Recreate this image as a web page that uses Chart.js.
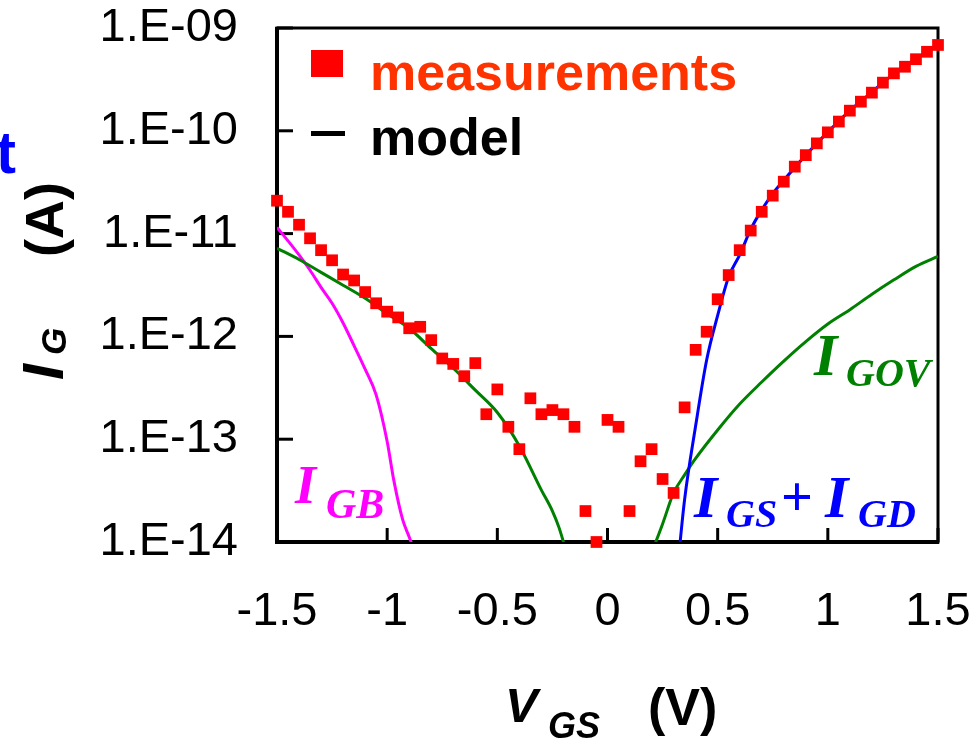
<!DOCTYPE html>
<html>
<head>
<meta charset="utf-8">
<script src="https://cdn.jsdelivr.net/npm/chart.js@4.4.0/dist/chart.umd.min.js"></script>
<style>
body { margin: 0; background: #fff; }
#wrap { width: 980px; height: 746px; }
</style>
</head>
<body>
<div id="wrap"><canvas id="chart"></canvas></div>
<script>
// gate voltage of the measured points (V)
const vgs = [-1.5,-1.45,-1.4,-1.35,-1.3,-1.25,-1.2,-1.15,-1.1,-1.05,-1,-0.95,-0.9,-0.85,-0.8,-0.75,-0.7,-0.65,-0.6,-0.55,
  -0.5,-0.45,-0.4,-0.35,-0.3,-0.25,-0.2,-0.15,-0.1,-0.05,0,0.05,0.1,0.15,0.2,0.25,0.3,0.35,0.4,0.45,
  0.5,0.55,0.6,0.65,0.7,0.75,0.8,0.85,0.9,0.95,1,1.05,1.1,1.15,1.2,1.25,1.3,1.35,1.4,1.45,1.5];
// measured gate current (A)
const igMeas = [2.09e-11,1.63e-11,1.22e-11,9.0e-12,6.9e-12,5.5e-12,4.0e-12,3.5e-12,2.7e-12,2.1e-12,
  1.74e-12,1.53e-12,1.2e-12,1.24e-12,9.2e-13,6.1e-13,5.4e-13,4.1e-13,5.5e-13,1.75e-13,
  3.05e-13,1.32e-13,8.0e-14,2.5e-13,1.75e-13,1.92e-13,1.75e-13,1.32e-13,2.0e-14,1.0e-14,
  1.54e-13,1.32e-13,2.0e-14,6.1e-14,8.0e-14,4.1e-14,3.0e-14,2.04e-13,7.4e-13,1.11e-12,
  2.3e-12,3.95e-12,6.9e-12,1.07e-11,1.63e-11,2.34e-11,3.2e-11,4.48e-11,5.8e-11,7.55e-11,
  9.66e-11,1.23e-10,1.57e-10,1.92e-10,2.35e-10,2.94e-10,3.62e-10,4.2e-10,4.97e-10,5.87e-10,6.84e-10];

// model components
const igbV = [-1.5,-1.45,-1.4,-1.35,-1.3,-1.25,-1.2,-1.15,-1.1,-1.05,-1.0,-0.97,-0.93,-0.9,-0.875];
const igbI = [1.15e-11,8.5e-12,6.2e-12,4.4e-12,3.0e-12,2.1e-12,1.35e-12,8.1e-13,4.8e-13,2.7e-13,9.5e-14,4.0e-14,1.66e-14,1.12e-14,8e-15];

const igovLeftV = [-1.5,-1.4,-1.3,-1.2,-1.1,-1.0,-0.9,-0.8,-0.7,-0.6,-0.5,-0.4,-0.3,-0.25,-0.22,-0.19];
const igovLeftI = [7.2e-12,5.6e-12,4.2e-12,3.15e-12,2.35e-12,1.66e-12,1.2e-12,7.6e-13,4.9e-13,3.0e-13,1.82e-13,8.6e-14,3.2e-14,2.0e-14,1.38e-14,8.5e-15];

const igovRightV = [0.21,0.25,0.3,0.35,0.4,0.5,0.6,0.7,0.8,0.9,1.0,1.1,1.2,1.3,1.4,1.5];
const igovRightI = [8.9e-15,1.5e-14,3.0e-14,4.5e-14,6.5e-14,1.23e-13,2.2e-13,3.6e-13,5.75e-13,8.9e-13,1.32e-12,1.82e-12,2.57e-12,3.55e-12,4.8e-12,6.0e-12];

const igsdV = [0.325,0.35,0.4,0.45,0.5,0.55,0.6,0.65,0.7,0.75,0.8,0.9,1.0,1.1,1.2,1.3,1.4,1.5];
const igsdI = [8e-15,2.6e-14,1.35e-13,5.9e-13,1.6e-12,3.8e-12,6.2e-12,1.1e-11,1.7e-11,2.45e-11,3.3e-11,5.8e-11,9.7e-11,1.57e-10,2.38e-10,3.6e-10,5.0e-10,6.9e-10];

// axes
const xTickValues = [-1.5,-1,-0.5,0,0.5,1,1.5];
const xTickLabels = ['-1.5','-1','-0.5','0','0.5','1','1.5'];
const yTickValues = [1e-14,1e-13,1e-12,1e-11,1e-10,1e-9];
const yTickLabels = ['1.E-14','1.E-13','1.E-12','1.E-11','1.E-10','1.E-09'];

const SANS = '"Liberation Sans", Arial, sans-serif';
const SERIF = '"Liberation Serif", "Times New Roman", serif';

function pts(xs, ys) { return xs.map((v, i) => ({x: v, y: ys[i]})); }

function curve(xs, ys, color) {
  return {
    data: pts(xs, ys),
    showLine: true,
    borderColor: color,
    borderWidth: 3,
    pointRadius: 0,
    cubicInterpolationMode: 'monotone'
  };
}

function txt(ctx, x, y, font, color, s) {
  ctx.font = font; ctx.fillStyle = color; ctx.fillText(s, x, y);
}

// keep the plot box where the original has it
function noPad(s) {
  s.paddingTop = 0; s.paddingBottom = 0; s.paddingLeft = 0; s.paddingRight = 0;
}

const decor = {
  id: 'decor',
  beforeDatasetsDraw(chart) {
    const {ctx, chartArea: a, scales: {x, y}} = chart;
    ctx.save();
    ctx.strokeStyle = '#000';
    ctx.lineWidth = 3;
    ctx.strokeRect(a.left, a.top, a.right - a.left, a.bottom - a.top);
    ctx.lineWidth = 4;
    ctx.beginPath();
    ctx.moveTo(a.left, a.top - 1);
    ctx.lineTo(a.left, a.bottom);
    ctx.lineTo(a.right + 1, a.bottom);
    ctx.stroke();
    ctx.lineWidth = 3;
    yTickValues.forEach(v => {
      const py = y.getPixelForValue(v);
      ctx.beginPath(); ctx.moveTo(a.left, py); ctx.lineTo(a.left + 16, py); ctx.stroke();
    });
    xTickValues.forEach(v => {
      const px = x.getPixelForValue(v);
      ctx.beginPath(); ctx.moveTo(px, a.bottom); ctx.lineTo(px, a.bottom - 14); ctx.stroke();
    });
    ctx.restore();
  },
  afterDraw(chart) {
    const ctx = chart.ctx;
    ctx.save();
    ctx.textAlign = 'left';
    ctx.textBaseline = 'alphabetic';

    // legend
    ctx.fillStyle = '#ff0000';
    ctx.fillRect(311, 50, 32, 27);
    ctx.fillStyle = '#000';
    ctx.fillRect(311, 131, 34, 5);
    txt(ctx, 370, 90, 'bold 52px ' + SANS, '#ff3300', 'measurements');
    txt(ctx, 370, 155, 'bold 52px ' + SANS, '#000', 'model');

    // cut-off blue letter at the left edge
    txt(ctx, -4, 173, 'bold 60px ' + SANS, '#0000ff', 't');

    // component labels
    txt(ctx, 295, 503, 'bold italic 54px ' + SERIF, '#ff00ff', 'I');
    txt(ctx, 326, 518, 'bold italic 42px ' + SERIF, '#ff00ff', 'GB');

    txt(ctx, 814, 375, 'bold italic 60px ' + SERIF, '#008000', 'I');
    txt(ctx, 846, 386, 'bold italic 40px ' + SERIF, '#008000', 'GOV');

    txt(ctx, 694, 517, 'bold italic 60px ' + SERIF, '#0000ff', 'I');
    txt(ctx, 726, 527, 'bold italic 40px ' + SERIF, '#0000ff', 'GS');
    txt(ctx, 781, 516, 'bold 56px ' + SERIF, '#0000ff', '+');
    txt(ctx, 825, 517, 'bold italic 60px ' + SERIF, '#0000ff', 'I');
    txt(ctx, 858, 527, 'bold italic 40px ' + SERIF, '#0000ff', 'GD');

    // x axis title
    txt(ctx, 505, 722, 'bold italic 49px ' + SANS, '#000', 'V');
    txt(ctx, 548, 738, 'bold italic 36px ' + SANS, '#000', 'GS');
    txt(ctx, 648, 725, 'bold 52px ' + SANS, '#000', '(V)');

    // y axis title, rotated
    ctx.translate(63, 380);
    ctx.rotate(-Math.PI / 2);
    txt(ctx, 0, 0, 'bold italic 58px ' + SANS, '#000', 'I');
    txt(ctx, 25, 3, 'bold italic 35px ' + SANS, '#000', 'G');
    txt(ctx, 123, 0, 'bold 54px ' + SANS, '#000', '(A)');
    ctx.restore();
  }
};

const ctx = document.getElementById('chart').getContext('2d');
const chart = new Chart(ctx, {
  type: 'scatter',
  data: {
    datasets: [
      {
        data: pts(vgs, igMeas),
        pointStyle: 'rect',
        pointRadius: 8.3,
        pointBorderWidth: 0,
        backgroundColor: '#ff0000',
        borderColor: '#ff0000',
        clip: false
      },
      curve(igsdV, igsdI, '#0000ff'),
      curve(igovRightV, igovRightI, '#008000'),
      curve(igovLeftV, igovLeftI, '#008000'),
      curve(igbV, igbI, '#ff00ff')
    ]
  },
  options: {
    responsive: true,
    maintainAspectRatio: false,
    animation: false,
    layout: { padding: { top: 28, right: 42, left: 0, bottom: 0 } },
    plugins: { legend: { display: false }, tooltip: { enabled: false } },
    scales: {
      x: {
        type: 'linear', min: -1.5, max: 1.5,
        afterBuildTicks: s => { s.ticks = xTickValues.map(v => ({value: v})); },
        afterFit: s => { s.height = 204; noPad(s); },
        grid: { display: false, drawTicks: false },
        border: { display: false },
        ticks: {
          padding: 42,
          color: '#000',
          font: { family: SANS, size: 47 },
          maxRotation: 0,
          callback: (v, i) => xTickLabels[i]
        }
      },
      y: {
        type: 'logarithmic', min: 1e-14, max: 1e-9,
        afterBuildTicks: s => { s.ticks = yTickValues.map(v => ({value: v})); },
        afterFit: s => { s.width = 277; noPad(s); },
        grid: { display: false, drawTicks: false },
        border: { display: false },
        ticks: {
          padding: 39,
          color: '#000',
          font: { family: SANS, size: 47 },
          callback: (v, i) => yTickLabels[i]
        }
      }
    }
  },
  plugins: [decor]
});
</script>
</body>
</html>
